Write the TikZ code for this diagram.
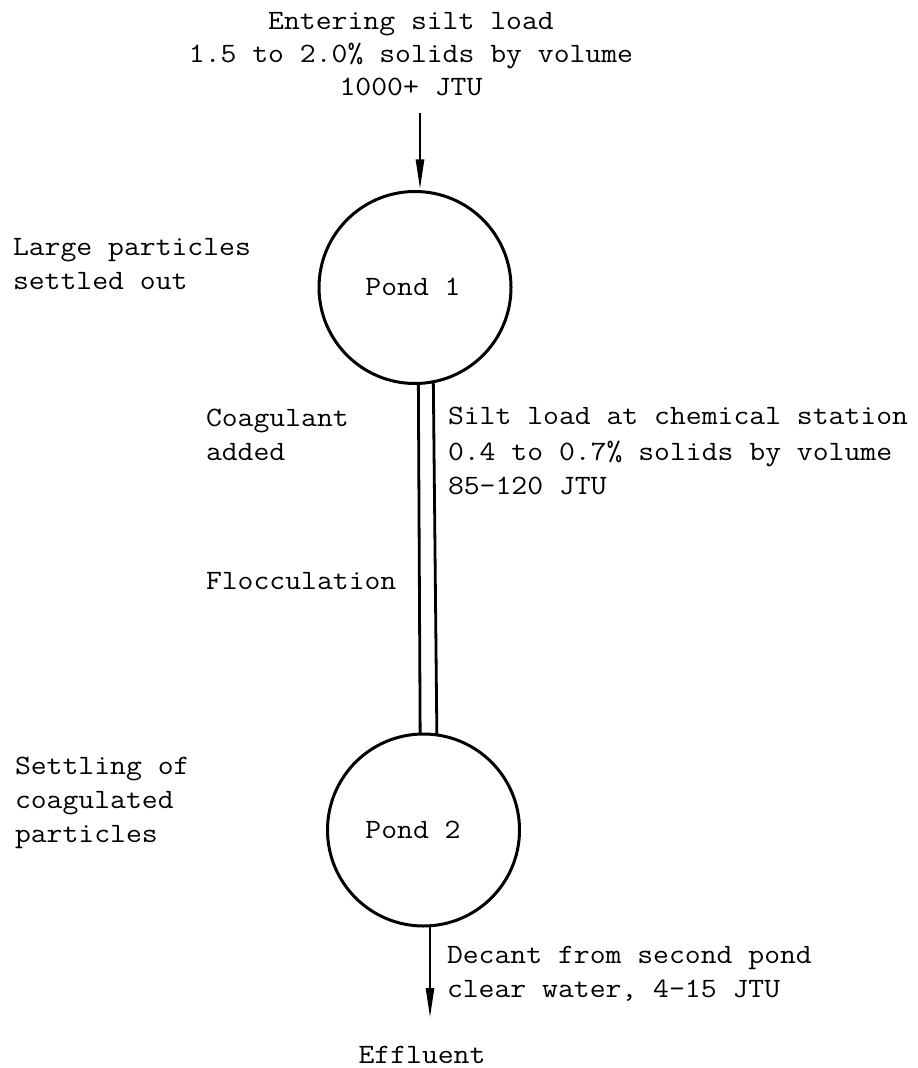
\documentclass[tikz,border=0pt]{standalone}
\usepackage{fontspec}
\usepackage{graphicx}
\usetikzlibrary{arrows.meta}
% typewriter text, widened slightly to the typewriter pitch
\newcommand{\typed}[1]{\scalebox{1.1}[1]{#1}}
\begin{document}
\begin{tikzpicture}[x=0.5pt,y=-0.5pt,
  every node/.style={inner sep=0pt, outer sep=0pt,
    font=\ttfamily\fontsize{14}{17}\selectfont},
  pond/.style={draw, circle, line width=1.5pt, minimum size=96pt},
  note/.style={anchor=base west},
  centred/.style={anchor=base},
  flow/.style={line width=1.3pt, -{Triangle[length=15pt,width=4pt]}},
  pipe/.style={line width=1.4pt}]
\useasboundingbox (0,0) rectangle (917,1068);

% ponds
\node[pond] (pond1) at (415,287.5) {};
\node[pond] (pond2) at (423.5,830) {};
\node[centred] (pond1label) at (413,296) {\typed{Pond 1}};
\node[centred] (pond2label) at (413,838) {\typed{Pond 2}};

% inflow
\node[centred, font=\ttfamily\fontsize{14}{16.3}\selectfont] (inflowtext) at (411,30)
  {\typed{\begin{tabular}[t]{@{}c@{}}Entering silt load\\1.5 to 2.0\% solids by volume\\1000+ JTU\end{tabular}}};
\coordinate (inlet) at (420,113);
\draw[flow, shorten >=1pt] (inlet) -- (inlet |- pond1.north);

% channel between the ponds
\draw[pipe] (pond1.-88.8) -- (pond2.92.1);
\draw[pipe] (pond1.-79.2) -- (pond2.82);

% outflow
\coordinate (outlet) at (430,1018);
\draw[flow] (pond2.south -| outlet) -- (outlet);
\node[centred] (effluent) at (422,1063) {\typed{Effluent}};

% annotations
\node[note] (largeparticles) at (13,256)
  {\typed{\begin{tabular}[t]{@{}l@{}}Large particles\\settled out\end{tabular}}};
\node[note] (coagulant) at (206,427)
  {\typed{\begin{tabular}[t]{@{}l@{}}Coagulant\\added\end{tabular}}};
\node[note] (flocculation) at (206,589) {\typed{Flocculation}};
\node[note, font=\ttfamily\fontsize{14}{17.5}\selectfont] (chemstation) at (448,425)
  {\typed{\begin{tabular}[t]{@{}l@{}}Silt load at chemical station\\0.4 to 0.7\% solids by volume\\85-120 JTU\end{tabular}}};
\node[note] (settling) at (15,774)
  {\typed{\begin{tabular}[t]{@{}l@{}}Settling of\\coagulated\\particles\end{tabular}}};
\node[note] (decant) at (447,963)
  {\typed{\begin{tabular}[t]{@{}l@{}}Decant from second pond\\clear water, 4-15 JTU\end{tabular}}};
\end{tikzpicture}
\end{document}
